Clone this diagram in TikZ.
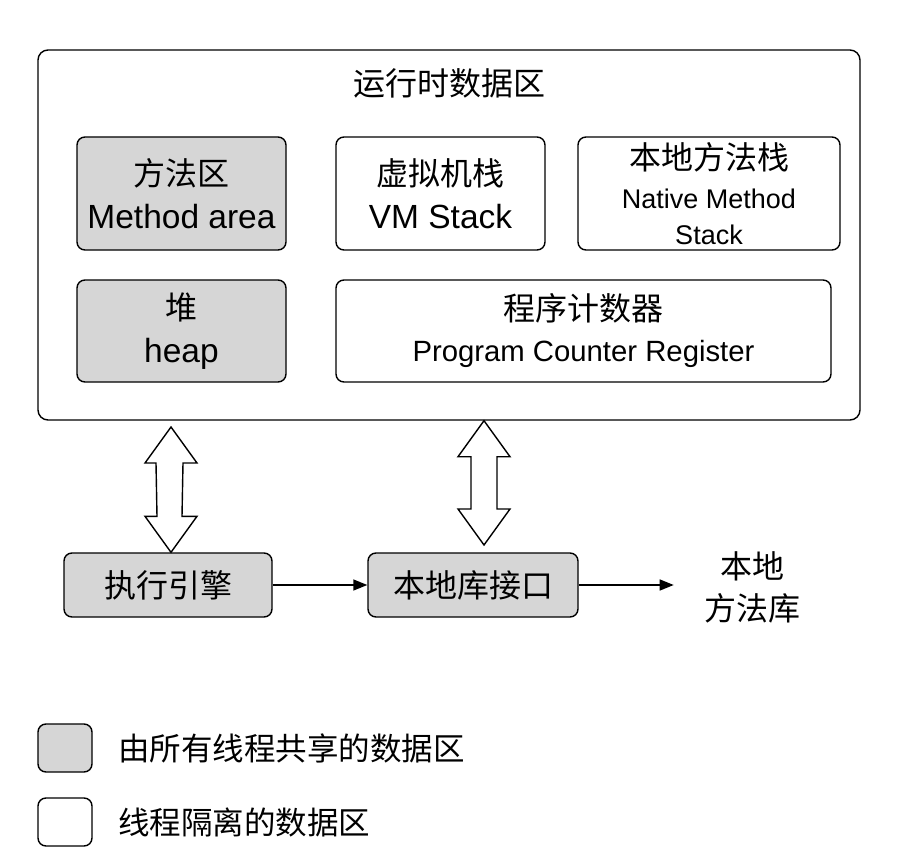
\documentclass[tikz,border=0pt]{standalone}
\usepackage{fontspec}
\setmainfont{Liberation Sans}
\newfontfamily\cjk{Noto Sans CJK SC}
\usetikzlibrary{calc,arrows.meta}
\definecolor{gfill}{RGB}{214,214,214}
\begin{document}
\begin{tikzpicture}[x=1pt,y=-1pt,
  box/.style={draw, line width=1.4pt, rounded corners=8pt, align=center, inner sep=0pt, fill=white},
  shared/.style={box, fill=gfill},
  big/.style={font=\fontsize{33.5}{43}\selectfont},
  conn/.style={line width=1.4pt, -{Triangle[length=14pt,width=11pt]}},
  dbl/.style={draw, line width=1.4pt, fill=white, line join=miter}]
\useasboundingbox (0,0) rectangle (918,864);
% outer
\node[box, minimum width=822, minimum height=370, rounded corners=10pt] (outer) at (449,235) {};
\node[font=\cjk\fontsize{32}{40}\selectfont] (title) at (449,83) {运行时数据区};
% inner boxes
\node[shared, big, minimum width=209, minimum height=113] (ma) at (181.5,193.5) {{\cjk\fontsize{32}{43}\selectfont 方法区}\\Method area};
\node[box, big, minimum width=209, minimum height=113] (vm) at (440.5,193.5) {{\cjk\fontsize{32}{43}\selectfont 虚拟机栈}\\VM Stack};
\node[box, minimum width=262, minimum height=113, font=\fontsize{27}{36}\selectfont] (nm) at (709,193.5) {{\cjk\fontsize{32}{38}\selectfont 本地方法栈}\\[3pt]Native Method\\Stack};
\node[shared, big, minimum width=209, minimum height=102] (heap) at (181.5,331) {{\cjk\fontsize{32}{43}\selectfont 堆}\\heap};
\node[box, minimum width=495, minimum height=102, font=\fontsize{29.3}{41}\selectfont] (pc) at (583.5,331) {{\cjk\fontsize{32}{42}\selectfont 程序计数器}\\Program Counter Register};
% bottom row
\node[shared, minimum width=208, minimum height=64, font=\cjk\fontsize{32}{40}\selectfont] (exe) at (168,585) {执行引擎};
\node[shared, minimum width=210, minimum height=64, font=\cjk\fontsize{32}{40}\selectfont] (jni) at (473,585) {本地库接口};
\node[align=center, font=\cjk\fontsize{32}{42}\selectfont] (lib) at (752,587) {本地\\方法库};
\draw[conn] (exe.east) -- (jni.west);
\draw[conn] (jni.east) -- ++(95,0) coordinate (libend);
% double arrows
\coordinate (la1) at (171,427);
\coordinate (la2) at (exe.north -| la1);
\coordinate (ra1) at (outer.south -| 484,0);
\coordinate (ra2) at (484,545);
\draw[dbl] (la1) -- ($(la1)+(26,36)$) -- ($(la1)+(12,36)$) -- ($(la2)+(11,-36)$) -- ($(la2)+(26,-36)$) -- (la2)
  -- ($(la2)+(-26,-36)$) -- ($(la2)+(-14,-36)$) -- ($(la1)+(-15,36)$) -- ($(la1)+(-26,36)$) -- cycle;
\draw[dbl] (ra1) -- ($(ra1)+(26,36)$) -- ($(ra1)+(13,36)$) -- ($(ra2)+(13,-36)$) -- ($(ra2)+(26,-36)$) -- (ra2)
  -- ($(ra2)+(-26,-36)$) -- ($(ra2)+(-13,-36)$) -- ($(ra1)+(-13,36)$) -- ($(ra1)+(-26,36)$) -- cycle;
% legend
\node[shared, minimum width=54, minimum height=48] (lg1) at (65,748) {};
\node[box, minimum width=54, minimum height=48] (lg2) at (65,822) {};
\node[anchor=west, font=\cjk\fontsize{31.5}{38}\selectfont, inner sep=0pt] (lt1) at (118,748) {由所有线程共享的数据区};
\node[anchor=west, font=\cjk\fontsize{31.5}{38}\selectfont, inner sep=0pt] (lt2) at (118,822) {线程隔离的数据区};
\end{tikzpicture}
\end{document}
